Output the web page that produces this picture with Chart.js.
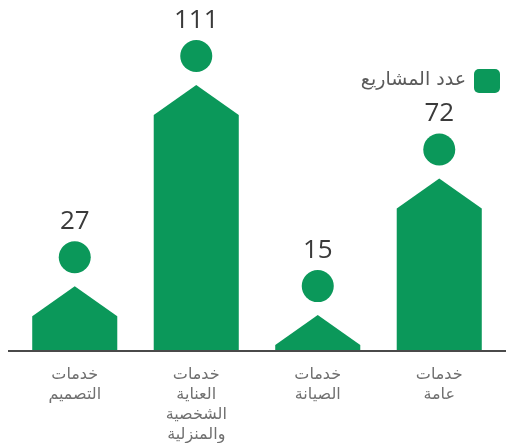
<!DOCTYPE html>
<html lang="ar">
<head>
<meta charset="utf-8">
<title>عدد المشاريع</title>
<script src="https://cdn.jsdelivr.net/npm/chart.js@4/dist/chart.umd.min.js"></script>
<style>
  body { margin: 0; background: #fff; }
  #wrap { width: 506px; height: 443px; position: relative; }
</style>
</head>
<body>
<div id="wrap"><canvas id="chart"></canvas></div>
<script>
// data
const categories = [
  ['خدمات', 'التصميم'],
  ['خدمات', 'العناية', 'الشخصية', 'والمنزلية'],
  ['خدمات', 'الصيانة'],
  ['خدمات', 'عامة']
];
const projectCounts = [27, 111, 15, 72];
const seriesName = 'عدد المشاريع';

const GREEN = '#0b985a';

// draws the house shaped bars, the dots, the value labels, the baseline and the legend
const housePlugin = {
  id: 'houseBars',
  afterDatasetsDraw(chart) {
    const ctx = chart.ctx;
    const meta = chart.getDatasetMeta(0);
    const base = chart.scales.y.getPixelForValue(0);

    ctx.save();
    // baseline
    ctx.strokeStyle = '#4a4a4a';
    ctx.lineWidth = 2;
    ctx.beginPath();
    ctx.moveTo(8, base);
    ctx.lineTo(chart.width, base);
    ctx.stroke();

    meta.data.forEach((bar, i) => {
      const { x, y, width } = bar.getProps(['x', 'y', 'width'], true);
      const half = width / 2;
      const roof = 30;
      ctx.fillStyle = GREEN;
      ctx.beginPath();
      ctx.moveTo(x - half, base - 1);
      ctx.lineTo(x - half, y + roof);
      ctx.lineTo(x, y);
      ctx.lineTo(x + half, y + roof);
      ctx.lineTo(x + half, base - 1);
      ctx.closePath();
      ctx.fill();

      // dot above the roof
      const cy = y - 29;
      ctx.beginPath();
      ctx.arc(x, cy, 16, 0, Math.PI * 2);
      ctx.fill();

      // value
      ctx.fillStyle = '#3a3a3a';
      ctx.font = '26px "Open Sans", sans-serif';
      ctx.textAlign = 'center';
      ctx.textBaseline = 'alphabetic';
      ctx.fillText(String(projectCounts[i]), x, cy - 28);
    });

    // legend
    ctx.fillStyle = GREEN;
    ctx.beginPath();
    ctx.roundRect(474, 69, 26, 24, 5);
    ctx.fill();
    ctx.fillStyle = '#5a5a5a';
    ctx.font = '19px "DejaVu Sans", sans-serif';
    ctx.textAlign = 'right';
    ctx.textBaseline = 'middle';
    ctx.direction = 'rtl';
    ctx.fillText(seriesName, 466, 80);
    ctx.restore();
  }
};

new Chart(document.getElementById('chart'), {
  type: 'bar',
  data: {
    labels: categories,
    datasets: [{
      label: seriesName,
      data: projectCounts,
      backgroundColor: 'rgba(0,0,0,0)',
      borderWidth: 0,
      barPercentage: 0.7,
      categoryPercentage: 1.0
    }]
  },
  options: {
    responsive: true,
    maintainAspectRatio: false,
    animation: false,
    layout: { padding: { left: 14, right: 6, top: 0, bottom: 0 } },
    plugins: {
      legend: { display: false },
      tooltip: { enabled: false }
    },
    scales: {
      x: {
        grid: { display: false },
        border: { display: false },
        ticks: {
          color: '#707070',
          font: { family: 'DejaVu Sans', size: 16, lineHeight: 1.25 },
          padding: 6,
          maxRotation: 0,
          autoSkip: false
        },
        afterFit(axis) { axis.height = 92; }
      },
      y: {
        display: false,
        min: 0,
        max: 146.5
      }
    }
  },
  plugins: [housePlugin]
});
</script>
</body>
</html>
